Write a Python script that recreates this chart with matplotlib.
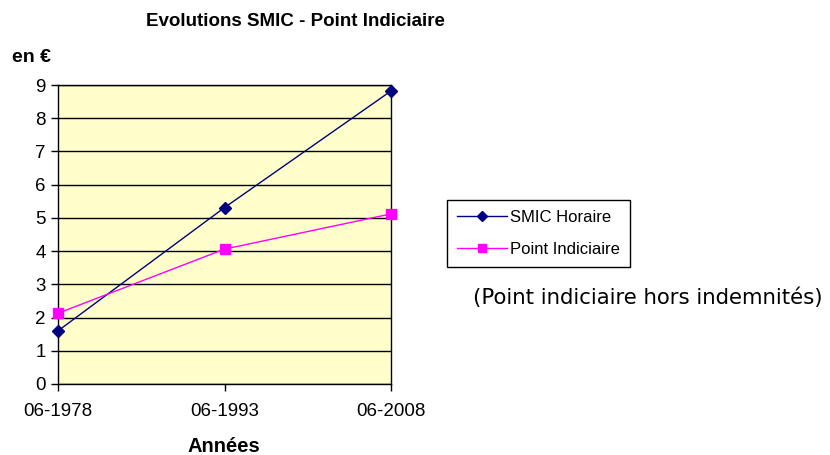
import matplotlib
matplotlib.use("Agg")
import matplotlib.pyplot as plt

categories = ["06-1978", "06-1993", "06-2008"]
smic = [1.60, 5.31, 8.82]
point = [2.13, 4.06, 5.12]
yticks = list(range(0, 10))

plt.rcParams['font.family'] = ['Liberation Sans', 'DejaVu Sans']

fig = plt.figure(figsize=(8.3, 4.55), dpi=100)
ax = fig.add_axes([58/830, 1-384/455, (391-58)/830, (384-85)/455])
ax.set_facecolor('#FFFFCC')
x = list(range(len(categories)))
ax.plot(x, smic, color='#000080', lw=1, marker='D', ms=6, label='SMIC Horaire', zorder=3, clip_on=False)
ax.plot(x, point, color='#FF00FF', lw=1, marker='s', ms=7, label='Point Indiciaire', zorder=3, clip_on=False)
ax.set_xlim(0, 2)
ax.set_ylim(0, 9)
ax.set_yticks(yticks)
ax.set_xticks(x)
ax.set_xticklabels(categories)
ax.tick_params(axis='both', labelsize=13.5, direction='out', length=5, width=1, colors='black')
ax.tick_params(axis='x', pad=9)
ax.tick_params(axis='y', pad=4)
ax.grid(axis='y', color='black', lw=1)
ax.set_axisbelow(True)
for s in ax.spines.values():
    s.set_color('black')
    s.set_linewidth(1)

fig.text(295/830, 1-22/455, "Evolutions SMIC - Point Indiciaire", ha='center', va='center',
         fontsize=13.5, fontweight='bold')
fig.text(12/830, 1-57/455, "en €", ha='left', va='center', fontsize=14, fontweight='bold')
fig.text(224/830, 1-446/455, "Années", ha='center', va='center', fontsize=14.5, fontweight='bold')

leg = fig.legend(loc='upper left', bbox_to_anchor=(447/830, 1-200/455), fontsize=12,
                 frameon=True, fancybox=False, edgecolor='black', framealpha=1,
                 handlelength=3.0, handletextpad=0.2, borderpad=0.6, labelspacing=1.0,
                 borderaxespad=0, markerscale=0.85)
leg.get_frame().set_linewidth(1)

fig.text(473/830, 1-298/455, "(Point indiciaire hors indemnités)", ha='left', va='center',
         fontsize=15.3, family='DejaVu Sans')

fig.savefig("out.png", dpi=100)
